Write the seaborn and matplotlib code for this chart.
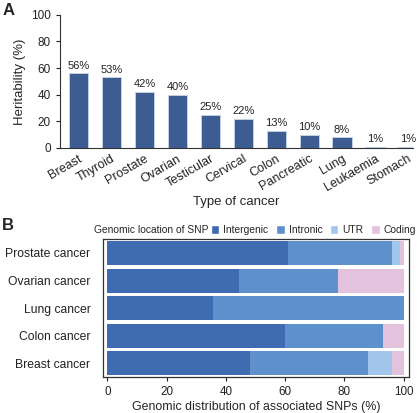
import numpy as np
import pandas as pd
import matplotlib.pyplot as plt
import seaborn as sns
from matplotlib.patches import Patch

# Panel A: heritability
tipos = ['Breast', 'Thyroid', 'Prostate', 'Ovarian', 'Testicular', 'Cervical',
         'Colon', 'Pancreatic', 'Lung', 'Leukaemia', 'Stomach']
herdabilidade = [56, 53, 42, 40, 25, 22, 13, 10, 8, 1, 1]

# Panel B: genomic location of SNPs (%)
canceres = ['Prostate cancer', 'Ovarian cancer', 'Lung cancer', 'Colon cancer', 'Breast cancer']
intergenic = [60.8, 44.5, 35.7, 60.0, 48.0]
intronic = [35.3, 33.3, 64.3, 33.0, 40.1]
utr = [2.8, 0.0, 0.0, 0.0, 8.1]
coding = [1.1, 22.2, 0.0, 7.0, 3.8]
categorias = ['Intergenic', 'Intronic', 'UTR', 'Coding']
cores_b = ['#3f6bb1', '#5e90cc', '#a3c6ec', '#e2c2dd']

sns.set_theme(style="ticks")
plt.rcParams['font.family'] = ['Liberation Sans', 'DejaVu Sans']

fig = plt.figure(figsize=(4.2, 4.13), dpi=100)

# ---- Painel A
ax1 = fig.add_axes([0.143, 0.642, 0.84, 0.322])
df_a = pd.DataFrame({'Tipo': tipos, 'Herdabilidade': herdabilidade})
sns.barplot(data=df_a, x='Tipo', y='Herdabilidade', color='#3c5c92',
            width=0.58, edgecolor='#c9d6ea', linewidth=0.6, saturation=1, ax=ax1)
for i, v in enumerate(herdabilidade):
    ax1.text(i, v + 2, f'{v}%', ha='center', va='bottom', fontsize=8, color='#222222')
ax1.set_ylim(0, 100)
ax1.set_xlim(-0.56, 10.15)
ax1.set_yticks([0, 20, 40, 60, 80, 100])
ax1.tick_params(axis='y', labelsize=8.5, length=3, width=0.8, colors='#222222')
ax1.tick_params(axis='x', labelsize=9, length=0, colors='#222222')
plt.setp(ax1.get_xticklabels(), rotation=30, ha='right', rotation_mode='anchor')
ax1.set_xlabel('Type of cancer', fontsize=9.5, labelpad=2)
ax1.set_ylabel('Heritability (%)', fontsize=9.5, labelpad=4)
sns.despine(ax=ax1)
for s in ['left', 'bottom']:
    ax1.spines[s].set_linewidth(0.8)
    ax1.spines[s].set_color('#333333')

# ---- Painel B
ax2 = fig.add_axes([0.245, 0.087, 0.729, 0.334])
series = [intergenic, intronic, utr, coding]
y = np.arange(len(canceres))
esquerda = np.zeros(len(canceres))
for vals, cor, nome in zip(series, cores_b, categorias):
    ax2.barh(y, vals, left=esquerda, height=0.87, color=cor, label=nome, linewidth=0)
    esquerda += np.array(vals)
ax2.set_yticks(y)
ax2.set_yticklabels(canceres)
ax2.set_ylim(len(canceres) - 0.5, -0.5)
ax2.set_xlim(-1.5, 101.8)
ax2.set_xticks([0, 20, 40, 60, 80, 100])
ax2.tick_params(axis='x', labelsize=8.4, colors='#222222', length=3, width=0.8)
ax2.tick_params(axis='y', labelsize=8.7, colors='#222222', length=0, pad=9)
ax2.set_xlabel('Genomic distribution of associated SNPs (%)', fontsize=8.9, labelpad=2)
for s in ax2.spines.values():
    s.set_linewidth(0.9)
    s.set_color('#333333')

fig.text(0.224, 0.443, 'Genomic location of SNP', fontsize=7.4, va='center', ha='left')
handles = [Patch(facecolor=c, label=n) for c, n in zip(cores_b, categorias)]
fig.legend(handles=handles, loc='center right', bbox_to_anchor=(1.003, 0.443), ncol=4,
           frameon=False, fontsize=7.4, handlelength=0.85, handleheight=0.85,
           handletextpad=0.4, columnspacing=0.7, borderpad=0)

fig.text(0.005, 0.975, 'A', fontsize=12, fontweight='bold', va='center')
fig.text(0.005, 0.455, 'B', fontsize=12, fontweight='bold', va='center')

fig.savefig('out.png', dpi=100)
